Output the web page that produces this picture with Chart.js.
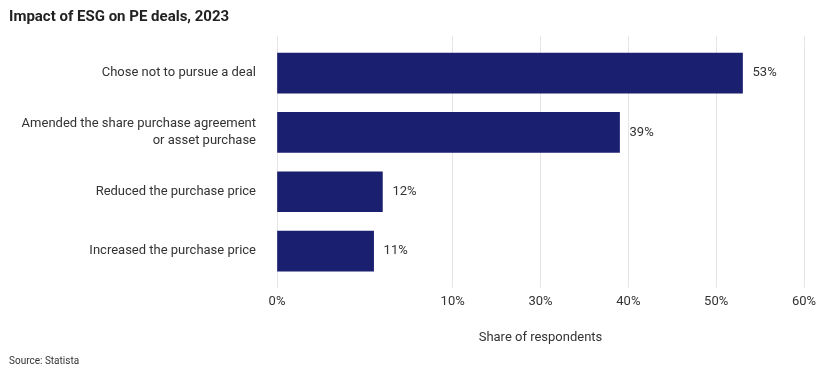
<!DOCTYPE html>
<html>
<head>
<meta charset="utf-8">
<script src="https://cdn.jsdelivr.net/npm/chart.js@4.4.1/dist/chart.umd.min.js"></script>
<style>
  html, body { margin: 0; padding: 0; background: #fff; }
  #wrap { position: relative; width: 830px; height: 376px; }
</style>
</head>
<body>
<div id="wrap"><canvas id="esgChart"></canvas></div>
<script>
const categories = [
  "Chose not to pursue a deal",
  ["Amended the share purchase agreement", "or asset purchase"],
  "Reduced the purchase price",
  "Increased the purchase price"
];
const shares = [53, 39, 12, 11];
const tickValues = [0, 20, 30, 40, 50, 60];
const tickLabels = ["0%", "10%", "30%", "40%", "50%", "60%"];

const FONT = "Roboto, 'Noto Sans', sans-serif";
const gridColor = "#e5e5e5";

// value labels at the end of each bar
const barLabels = {
  id: "barLabels",
  afterDatasetsDraw(chart) {
    const ctx = chart.ctx;
    const meta = chart.getDatasetMeta(0);
    ctx.save();
    ctx.font = "13px " + FONT;
    ctx.fillStyle = "#333";
    ctx.textBaseline = "middle";
    ctx.textAlign = "left";
    meta.data.forEach((bar, i) => {
      ctx.fillText(shares[i] + "%", bar.x + 10, bar.y);
    });
    ctx.restore();
  }
};

const setTicks = (scale) => {
  scale.ticks = tickValues.map((v) => ({ value: v }));
};

new Chart(document.getElementById("esgChart").getContext("2d"), {
  type: "bar",
  data: {
    labels: categories,
    datasets: [
      {
        label: "Share of respondents",
        data: shares,
        backgroundColor: "#1b1f6f",
        borderWidth: 0,
        barThickness: 40
      }
    ]
  },
  options: {
    indexAxis: "y",
    responsive: true,
    maintainAspectRatio: false,
    animation: false,
    layout: { padding: { left: 9, right: 26, top: 0, bottom: 0 } },
    plugins: {
      legend: { display: false },
      tooltip: { enabled: false },
      title: {
        display: true,
        text: "Impact of ESG on PE deals, 2023",
        align: "start",
        color: "#222",
        font: { family: FONT, size: 15, weight: "bold" },
        padding: { top: 8, bottom: 10.4 }
      },
      subtitle: {
        display: true,
        position: "bottom",
        text: "Source: Statista",
        align: "start",
        color: "#333",
        font: { family: FONT, size: 10 },
        padding: { top: 9, bottom: 9 }
      }
    },
    scales: {
      x: {
        type: "linear",
        position: "bottom",
        min: 0,
        max: 60,
        afterBuildTicks: setTicks,
        grid: { color: gridColor, drawTicks: true, tickLength: 7 },
        border: { display: false },
        ticks: {
          color: "#333",
          padding: 6,
          font: { family: FONT, size: 13 },
          callback: (value, index) => tickLabels[index]
        },
        title: {
          display: true,
          text: "Share of respondents",
          color: "#333",
          font: { family: FONT, size: 13 },
          padding: { top: 15, bottom: 0 }
        }
      },
      x2: {
        type: "linear",
        position: "top",
        min: 0,
        max: 60,
        afterBuildTicks: setTicks,
        grid: { color: gridColor, drawOnChartArea: false, drawTicks: true, tickLength: 7 },
        border: { display: false },
        ticks: { display: false }
      },
      y: {
        grid: { display: false },
        border: { display: false },
        afterFit: (scale) => { scale.width = 268; },
        ticks: {
          color: "#333",
          padding: 13,
          font: { family: FONT, size: 13, lineHeight: 1.3 }
        }
      }
    }
  },
  plugins: [barLabels]
});
</script>
</body>
</html>
